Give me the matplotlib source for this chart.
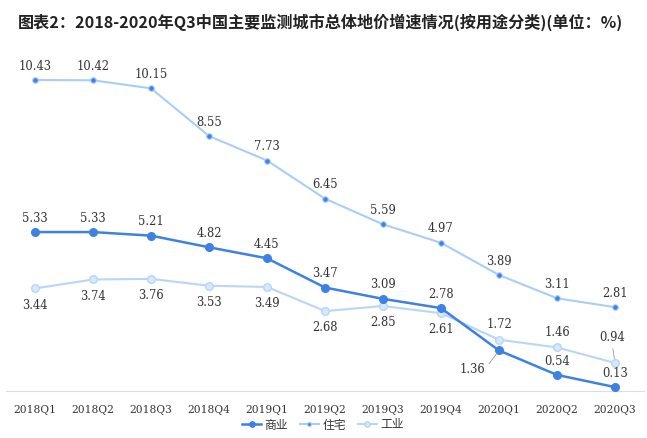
import matplotlib.pyplot as plt

plt.rcParams['font.family'] = ['Noto Sans CJK SC', 'DejaVu Sans']

# data
quarters = ['2018Q1', '2018Q2', '2018Q3', '2018Q4', '2019Q1', '2019Q2',
            '2019Q3', '2019Q4', '2020Q1', '2020Q2', '2020Q3']
commercial = [5.33, 5.33, 5.21, 4.82, 4.45, 3.47, 3.09, 2.78, 1.36, 0.54, 0.13]
residential = [10.43, 10.42, 10.15, 8.55, 7.73, 6.45, 5.59, 4.97, 3.89, 3.11, 2.81]
industrial = [3.44, 3.74, 3.76, 3.53, 3.49, 2.68, 2.85, 2.61, 1.72, 1.46, 0.94]

c_com = '#3d82e3'
c_res = '#a9cef6'
c_ind = '#b7d6f8'
label_font = dict(family='DejaVu Serif', fontsize=8.3, color='#333333')

fig = plt.figure(figsize=(6.47, 4.38), dpi=100)
ax = fig.add_axes([6 / 647, (438 - 391) / 438, 638 / 647, 328 / 438])

x = list(range(len(quarters)))
ax.plot(x, residential, color=c_res, lw=1.5, marker='o', ms=4,
        mfc=c_com, mec=c_res, mew=0.8, label='住宅', zorder=3)
ax.plot(x, industrial, color=c_ind, lw=1.5, marker='o', ms=5.5,
        mfc='#d6e8fb', mec=c_ind, mew=1, label='工业', zorder=3)
ax.plot(x, commercial, color=c_com, lw=1.8, marker='o', ms=5.5,
        mfc=c_com, mec=c_com, label='商业', zorder=4)

leader = dict(arrowstyle='-', color='#999999', lw=0.6, shrinkA=1, shrinkB=3)

for i, v in enumerate(residential):
    ax.annotate(f'{v:.2f}', (i, v), xytext=(0, 10), textcoords='offset points',
                ha='center', va='center', **label_font)

for i, v in enumerate(commercial):
    if i == 8:
        ax.annotate(f'{v:.2f}', (i, v), xytext=(-19, -14), textcoords='offset points',
                    ha='center', va='center', zorder=5,
                    arrowprops=dict(relpos=(1, 0.6), **leader), **label_font)
    else:
        ax.annotate(f'{v:.2f}', (i, v), xytext=(0, 10), textcoords='offset points',
                    ha='center', va='center', **label_font)

for i, v in enumerate(industrial):
    if i == 10:
        ax.annotate(f'{v:.2f}', (i, v), xytext=(-2, 18), textcoords='offset points',
                    ha='center', va='center', zorder=5,
                    arrowprops=dict(relpos=(0.5, 0), **leader), **label_font)
    elif i >= 8:
        ax.annotate(f'{v:.2f}', (i, v), xytext=(0, 11), textcoords='offset points',
                    ha='center', va='center', **label_font)
    else:
        ax.annotate(f'{v:.2f}', (i, v), xytext=(0, -12), textcoords='offset points',
                    ha='center', va='center', **label_font)

ax.set_xlim(-0.5, len(quarters) - 0.5)
ax.set_ylim(0, 11)
ax.set_xticks(x)
ax.set_xticklabels(quarters, family='DejaVu Serif', fontsize=7.7, color='#333333')
ax.tick_params(axis='x', length=0, pad=10)
ax.set_yticks([])
for s in ['top', 'right', 'left']:
    ax.spines[s].set_visible(False)
ax.spines['bottom'].set_color('#dddddd')

fig.text(18 / 647, 1 - 22 / 438,
         '图表2：2018-2020年Q3中国主要监测城市总体地价增速情况(按用途分类)(单位：%)',
         fontsize=11.6, fontweight='heavy', color='#222222', va='center', ha='left')

handles, labels = ax.get_legend_handles_labels()
order = [2, 0, 1]
fig.legend([handles[k] for k in order], [labels[k] for k in order],
           loc='center', bbox_to_anchor=(323 / 647, 1 - 425 / 438), ncol=3,
           frameon=False, fontsize=8.5, handlelength=1.6, handletextpad=0.3,
           columnspacing=1.0, labelcolor='#333333', markerscale=0.7)

fig.savefig('out.png', dpi=100)
